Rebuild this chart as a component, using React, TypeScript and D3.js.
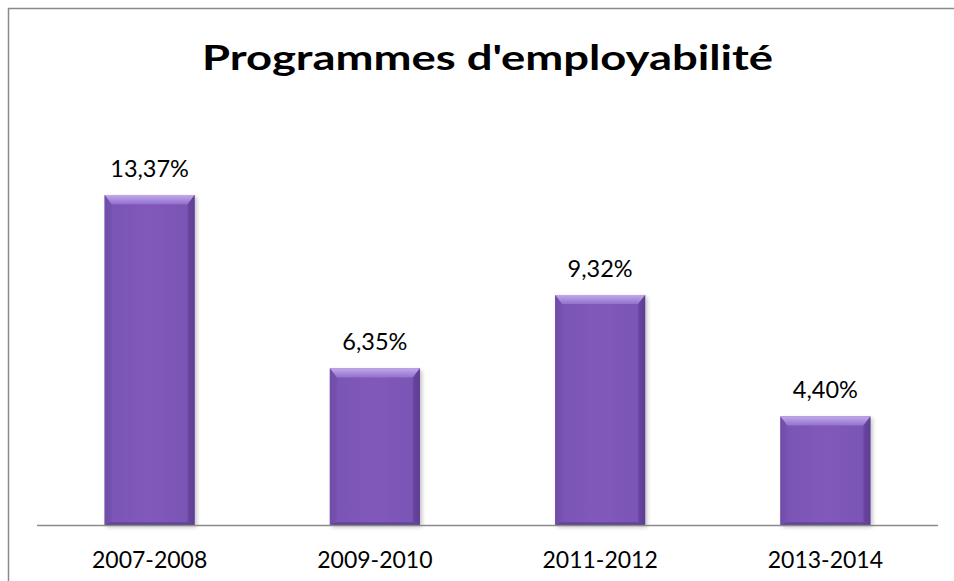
import React from "react";
import * as d3 from "d3";

const categories = ["2007-2008", "2009-2010", "2011-2012", "2013-2014"];
const values = [13.37, 6.35, 9.32, 4.4];
const valueLabels = ["13,37%", "6,35%", "9,32%", "4,40%"];
const title = "Programmes d'employabilité";

export default function App() {
  const W = 954;
  const H = 581;
  const plotLeft = 37;
  const plotRight = 938;
  const baseY = 525;
  const x = d3.scaleBand<string>().domain(categories).range([plotLeft, plotRight]).paddingInner(0.6).paddingOuter(0.3);
  const y = d3.scaleLinear().domain([0, 16]).range([baseY, baseY - 16 * 24.68]);
  const font = "Lato, 'Open Sans', sans-serif";
  return (
    <svg width={W} height={H} style={{ position: "absolute", left: 0, top: 0 }} xmlns="http://www.w3.org/2000/svg">
      <defs>
        <linearGradient id="barH" x1="0" x2="1" y1="0" y2="0">
          <stop offset="0" stopColor="#6a47a3" />
          <stop offset="0.08" stopColor="#7a55b5" />
          <stop offset="0.5" stopColor="#8259bb" />
          <stop offset="0.92" stopColor="#7a55b5" />
          <stop offset="1" stopColor="#5e3f93" />
        </linearGradient>
        <linearGradient id="bevelTop" x1="0" x2="0" y1="0" y2="1">
          <stop offset="0" stopColor="#c2a8ec" />
          <stop offset="1" stopColor="#9272cc" />
        </linearGradient>
        <linearGradient id="bevelBottom" x1="0" x2="0" y1="0" y2="1">
          <stop offset="0" stopColor="#6a4aa0" />
          <stop offset="1" stopColor="#4f3580" />
        </linearGradient>
        <filter id="shadow" x="-10%" y="-10%" width="130%" height="120%">
          <feGaussianBlur in="SourceAlpha" stdDeviation="2" />
          <feOffset dx="1.5" dy="1.5" />
          <feComponentTransfer>
            <feFuncA type="linear" slope="0.25" />
          </feComponentTransfer>
          <feMerge>
            <feMergeNode />
            <feMergeNode in="SourceGraphic" />
          </feMerge>
        </filter>
      </defs>
      <rect x={8.5} y={8.5} width={980} height={620} fill="#fff" stroke="#8a8a8a" strokeWidth={1.5} />
      <text x={(plotLeft + plotRight) / 2} y={70} textAnchor="middle" fontFamily={font} fontWeight={700} fontSize={35} fill="#000" textLength={571} lengthAdjust="spacingAndGlyphs">
        {title}
      </text>
      {categories.map((c, i) => {
        const bx = x(c)!;
        const bw = x.bandwidth();
        const ty = y(values[i]);
        const bh = baseY - ty;
        const b = 7;
        return (
          <g key={c}>
            <g filter="url(#shadow)">
              <rect x={bx} y={ty} width={bw} height={bh} fill="url(#barH)" />
            </g>
            <polygon points={`${bx},${ty} ${bx + bw},${ty} ${bx + bw - b},${ty + b * 1.3} ${bx + b},${ty + b * 1.3}`} fill="url(#bevelTop)" />
            <polygon points={`${bx},${ty} ${bx + b},${ty + b * 1.3} ${bx + b},${baseY - 3} ${bx},${baseY}`} fill="#7450ac" opacity={0.6} />
            <polygon points={`${bx + bw},${ty} ${bx + bw - b},${ty + b * 1.3} ${bx + bw - b},${baseY - 3} ${bx + bw},${baseY}`} fill="#5c3d90" opacity={0.55} />
            <polygon points={`${bx},${baseY} ${bx + b},${baseY - 3} ${bx + bw - b},${baseY - 3} ${bx + bw},${baseY}`} fill="url(#bevelBottom)" opacity={0.8} />
            <text x={bx + bw / 2} y={ty - 18} textAnchor="middle" fontFamily={font} fontSize={23.5} fill="#000">
              {valueLabels[i]}
            </text>
            <text x={bx + bw / 2} y={568} textAnchor="middle" fontFamily={font} fontSize={23} fill="#000">
              {c}
            </text>
          </g>
        );
      })}
      <line x1={plotLeft} x2={plotRight} y1={baseY + 0.5} y2={baseY + 0.5} stroke="#8a8a8a" strokeWidth={1.5} />
    </svg>
  );
}
